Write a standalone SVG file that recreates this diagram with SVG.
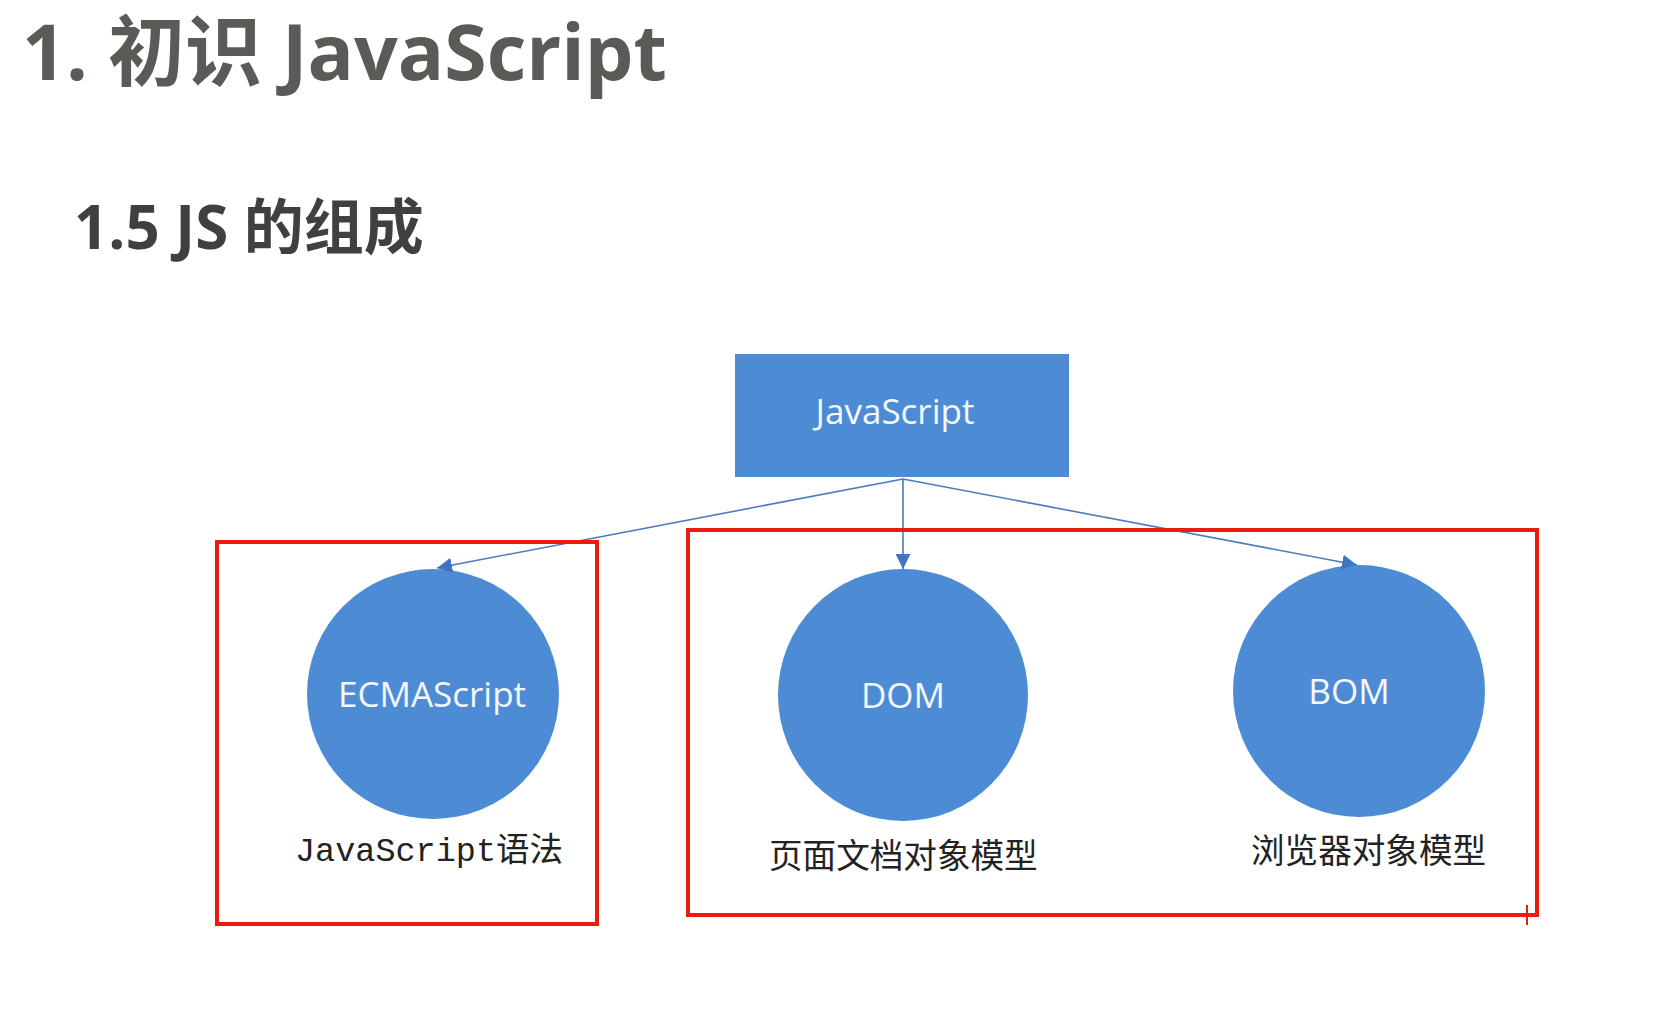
<svg xmlns="http://www.w3.org/2000/svg" width="1670" height="1015" viewBox="0 0 1670 1015">
<defs>
<marker id="arr" viewBox="0 0 10 10" refX="10" refY="5" markerWidth="15" markerHeight="15" markerUnits="userSpaceOnUse" orient="auto">
<path d="M0,0 L10,5 L0,10 z" fill="#3f74c4"/>
</marker>
<style>
.h1{font-family:"Open Sans","Noto Sans CJK SC",sans-serif;font-weight:700;font-size:77px;fill:#595b57}
.h2{font-family:"Open Sans","Noto Sans CJK SC",sans-serif;font-weight:700;font-size:60px;fill:#404040}
.node{fill:#4d8cd5}
.nt{font-family:"Open Sans","Noto Sans","Noto Sans CJK SC",sans-serif;font-size:35px;fill:#f4f8fc;text-anchor:middle}
.lbl{font-family:"Noto Sans CJK SC",sans-serif;font-size:33.6px;fill:#222}
.mono{font-family:"Liberation Mono","Noto Sans CJK SC",monospace;font-size:33.5px;fill:#222}
.conn{stroke:#4a7cc0;stroke-width:1.6;fill:none}
.box{fill:none;stroke:#ec1b0f;stroke-width:4}
</style>
</defs>
<rect width="1670" height="1015" fill="#ffffff"/>
<text class="h1" x="22" y="80">1. 初识 JavaScript</text>
<text class="h2" x="74" y="249">1.5 JS 的组成</text>

<g id="javascript">
<rect class="node" x="735" y="354" width="334" height="123"/>
<text class="nt" x="895" y="424">JavaScript</text>
</g>
<g id="ecmascript">
<ellipse class="node" cx="433" cy="694" rx="126" ry="125"/>
<text class="nt" x="432" y="707">ECMAScript</text>
<text class="mono" x="295" y="861">JavaScript语法</text>
</g>
<g id="dom">
<ellipse class="node" cx="903" cy="695" rx="125" ry="126"/>
<text class="nt" x="903" y="708">DOM</text>
<text class="lbl" x="769" y="868">页面文档对象模型</text>
</g>
<g id="bom">
<ellipse class="node" cx="1359" cy="691" rx="126" ry="126"/>
<text class="nt" x="1349" y="704">BOM</text>
<text class="lbl" x="1251" y="863">浏览器对象模型</text>
</g>

<g id="connectors">
<line class="conn" x1="903" y1="479" x2="437" y2="568" marker-end="url(#arr)"/>
<line class="conn" x1="903" y1="479" x2="903" y2="569" marker-end="url(#arr)"/>
<line class="conn" x1="903" y1="479" x2="1357" y2="565" marker-end="url(#arr)"/>
</g>

<g id="annotations">
<rect class="box" x="217" y="542" width="380" height="382"/>
<rect class="box" x="688" y="530" width="849" height="385"/>
<line x1="1527" y1="905" x2="1527" y2="925" stroke="#ec1b0f" stroke-width="2"/>
</g>
</svg>
